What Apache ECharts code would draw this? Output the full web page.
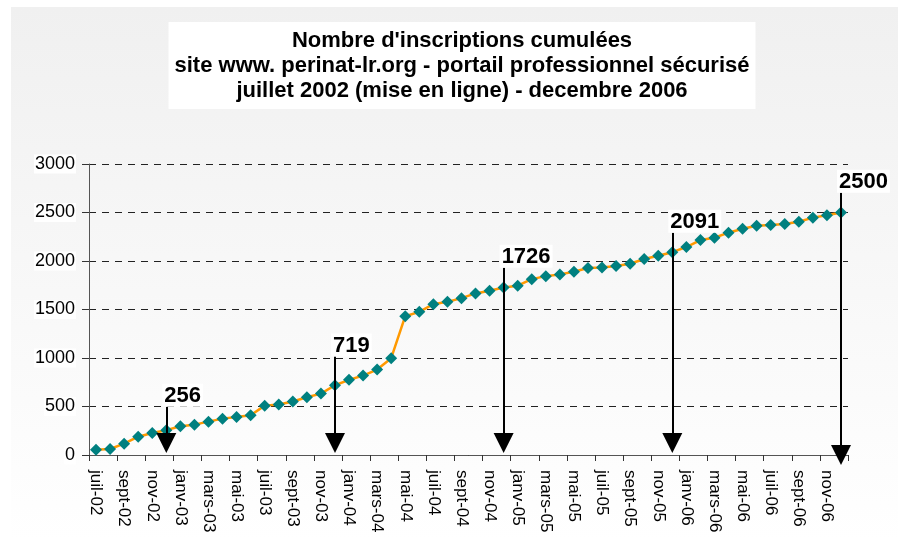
<!DOCTYPE html>
<html>
<head>
<meta charset="utf-8">
<script src="https://cdn.jsdelivr.net/npm/echarts@6/dist/echarts.min.js"></script>
<style>html,body{margin:0;padding:0;background:#fff}#c{width:898px;height:541px}</style>
</head>
<body>
<div id="c"></div>
<script>
var months = ['juil-02','août-02','sept-02','oct-02','nov-02','déc-02',
  'janv-03','févr-03','mars-03','avr-03','mai-03','juin-03','juil-03','août-03','sept-03','oct-03','nov-03','déc-03',
  'janv-04','févr-04','mars-04','avr-04','mai-04','juin-04','juil-04','août-04','sept-04','oct-04','nov-04','déc-04',
  'janv-05','févr-05','mars-05','avr-05','mai-05','juin-05','juil-05','août-05','sept-05','oct-05','nov-05','déc-05',
  'janv-06','févr-06','mars-06','avr-06','mai-06','juin-06','juil-06','août-06','sept-06','oct-06','nov-06','déc-06'];
var inscriptions = [55,62,117,189,227,256,
  296,313,344,375,392,409,509,520,551,595,633,719,
  775,819,881,998,1431,1476,1555,1579,1617,1666,1693,1726,
  1745,1813,1844,1862,1889,1927,1934,1948,1972,2020,2054,2091,
  2144,2216,2240,2292,2333,2364,2371,2381,2405,2447,2471,2500];
var yTicks = [0,500,1000,1500,2000,2500,3000];
var annotCats = ['déc-02','déc-03','déc-04','déc-05','déc-06'];
var annotLabels = ['256','719','1726','2091','2500'];
var annotTop = [498,1016,1931,2292,2704];
var annotBottom = [124,124,124,124,0];

var chart = echarts.init(document.getElementById('c'));
var markData = annotCats.map(function(c,i){
  return [{coord:[c, annotTop[i]], label:{formatter: annotLabels[i]}}, {coord:[c, annotBottom[i]]}];
});
chart.setOption({
  animation:false,
  graphic:[{type:'rect', z:-10, silent:true, shape:{x:11,y:7,width:887,height:534},
    style:{fill:new echarts.graphic.LinearGradient(0,0,0,1,[{offset:0,color:'#f0f0f0'},{offset:1,color:'#ffffff'}])}}],
  title:{
    text:'Nombre d\'inscriptions cumulées\nsite www. perinat-lr.org - portail professionnel sécurisé\njuillet 2002 (mise en ligne) - decembre 2006',
    left:456, top:22, textAlign:'center',
    backgroundColor:'#ffffff', padding:[6,6,6,6],
    textStyle:{fontFamily:'Liberation Sans, Arial', fontWeight:'bold', fontSize:22, lineHeight:25, color:'#000'}
  },
  grid:{left:89, right:50, top:164, bottom:86},
  xAxis:{
    type:'category', data:months, boundaryGap:true,
    axisLine:{lineStyle:{color:'#555', width:1}},
    axisTick:{show:true, length:6, interval:1, lineStyle:{color:'#333'}},
    axisLabel:{interval:1, rotate:-90, margin:15, fontFamily:'Liberation Sans, Arial', fontSize:17, color:'#000'}
  },
  yAxis:{
    type:'value', min:0, max:3000, interval:500,
    axisLine:{show:true, lineStyle:{color:'#555'}},
    axisTick:{show:true, length:7, lineStyle:{color:'#333'}},
    axisLabel:{margin:13, fontFamily:'Liberation Sans, Arial', fontSize:18, color:'#000',
      backgroundColor:'#ffffff', padding:[1,1,0,1],
      formatter:function(v){return yTicks.indexOf(v)>=0 ? String(v) : '';}},
    splitLine:{show:true, lineStyle:{color:'#222', type:[7,6], width:1}}
  },
  series:[{
    type:'line', data:inscriptions,
    symbol:'diamond', symbolSize:12, showAllSymbol:true,
    lineStyle:{color:'#ff9900', width:2.5},
    itemStyle:{color:'#008080'},
    markLine:{
      silent:true, animation:false,
      symbol:['none','triangle'], symbolSize:[20,20],
      lineStyle:{color:'#000', width:2, type:'solid'},
      label:{show:true, position:'start', align:'left', verticalAlign:'bottom', distance:0, offset:[-4,0],
        fontFamily:'Liberation Sans, Arial', fontWeight:'bold', fontSize:22, color:'#000',
        backgroundColor:'#ffffff', padding:[1,2,0,2]},
      data:markData
    }
  }]
});
</script>
</body>
</html>
